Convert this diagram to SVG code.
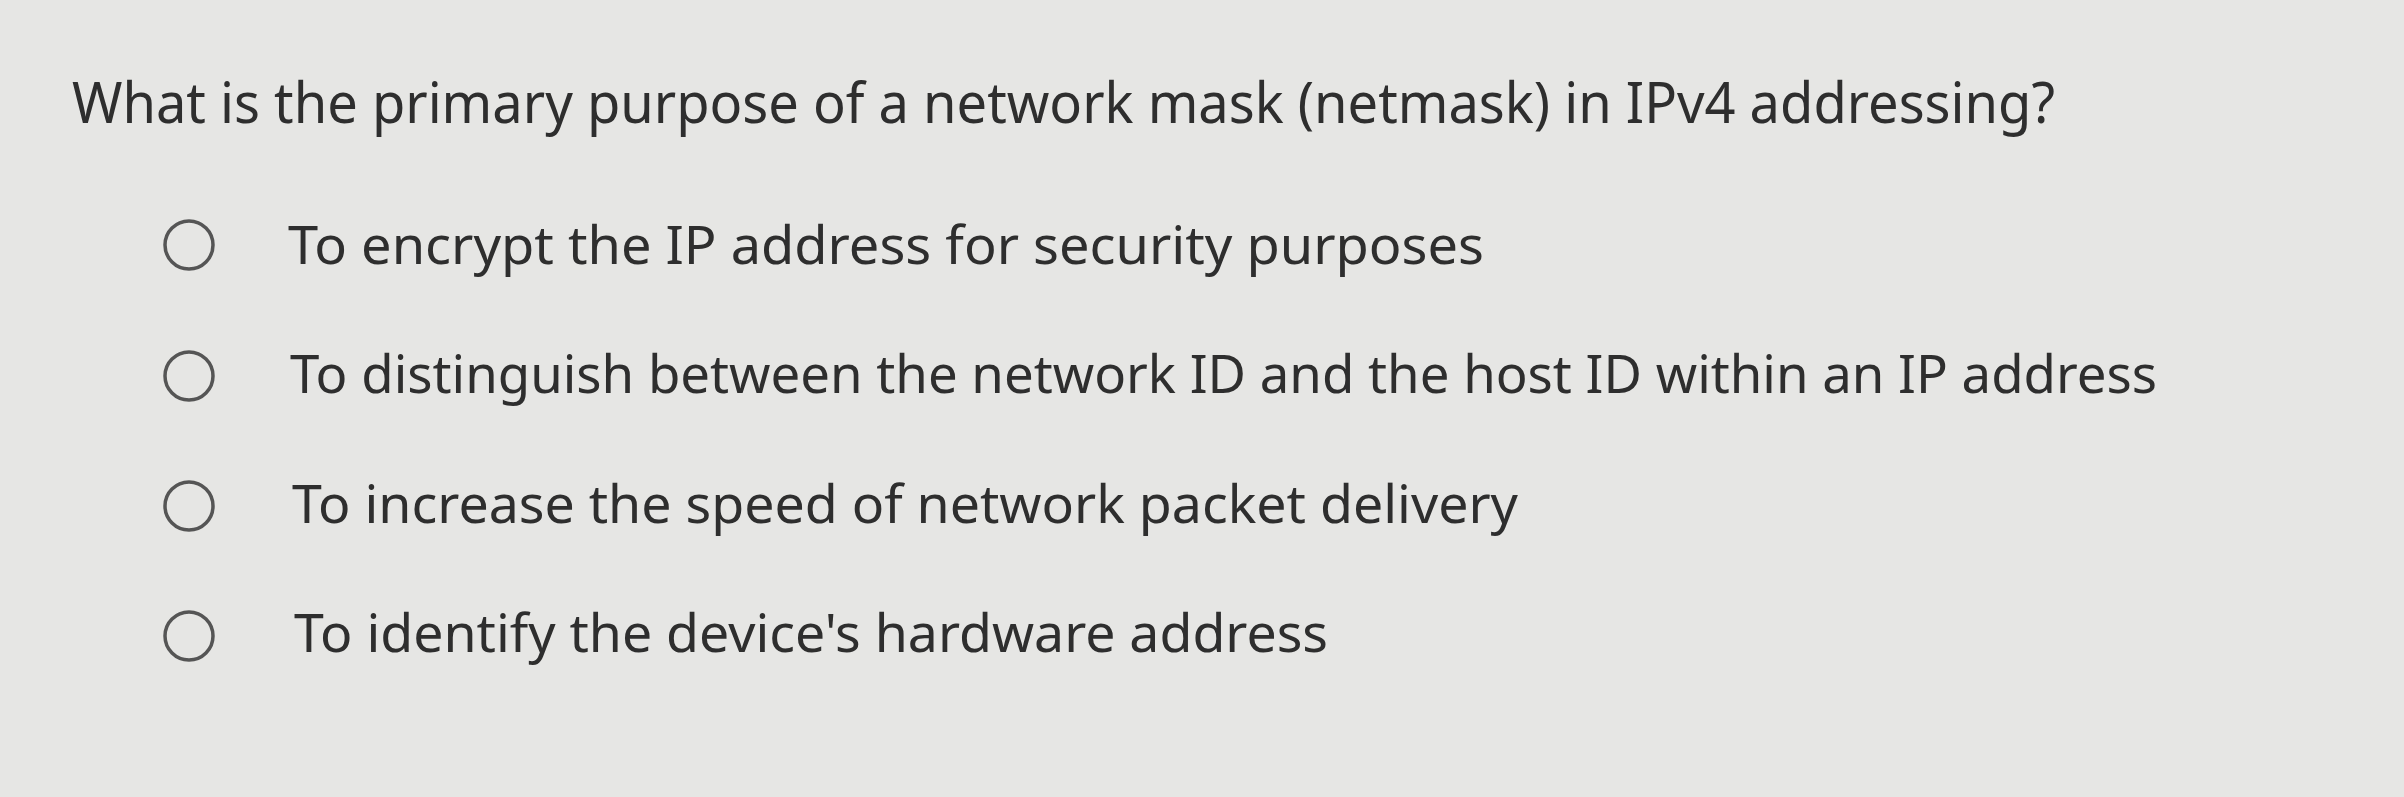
<svg xmlns="http://www.w3.org/2000/svg" width="2404" height="797" viewBox="0 0 2404 797">
<style>
text{font-family:"Noto Sans","Open Sans",sans-serif;fill:#2e2e2e}
.q{font-size:56px}
.o{font-size:53px}
circle{fill:none;stroke:#555;stroke-width:3.5}
</style>
<rect width="2404" height="797" fill="#e6e6e4"/>
<g id="question"><text class="q" x="72" y="123" textLength="1983" lengthAdjust="spacingAndGlyphs">What is the primary purpose of a network mask (netmask) in IPv4 addressing?</text></g>
<g id="option1"><circle cx="189" cy="245" r="24"/><text class="o" x="288" y="264" textLength="1196" lengthAdjust="spacingAndGlyphs">To encrypt the IP address for security purposes</text></g>
<g id="option2"><circle cx="189" cy="376" r="24"/><text class="o" x="290" y="393" textLength="1867" lengthAdjust="spacingAndGlyphs">To distinguish between the network ID and the host ID within an IP address</text></g>
<g id="option3"><circle cx="189" cy="506" r="24"/><text class="o" x="292" y="523" textLength="1226" lengthAdjust="spacingAndGlyphs">To increase the speed of network packet delivery</text></g>
<g id="option4"><circle cx="189" cy="636" r="24"/><text class="o" x="294" y="652" textLength="1034" lengthAdjust="spacingAndGlyphs">To identify the device's hardware address</text></g>
<g id="connectors"/>
</svg>
